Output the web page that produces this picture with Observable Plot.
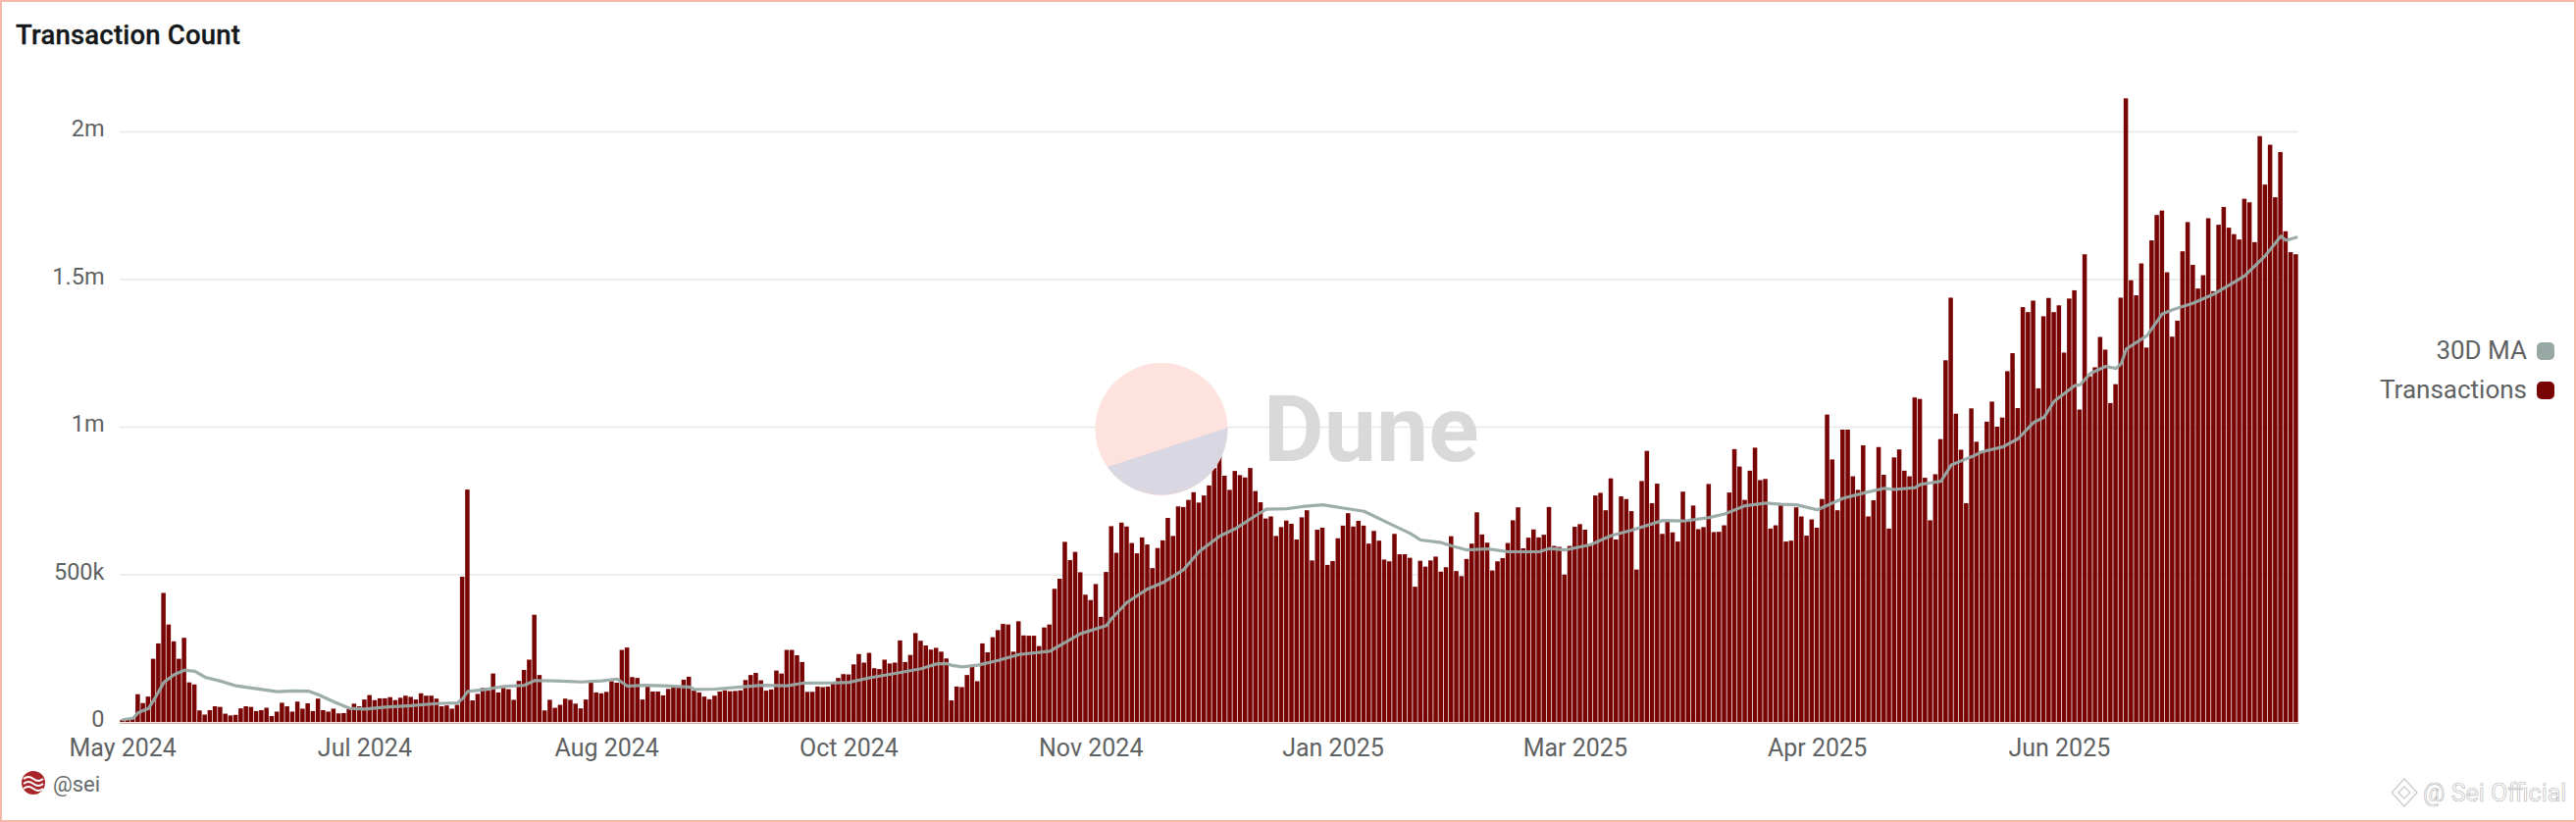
<!DOCTYPE html>
<html><head><meta charset="utf-8">
<script src="https://cdn.jsdelivr.net/npm/d3@7"></script>
<script src="https://cdn.jsdelivr.net/npm/@observablehq/plot@0.6"></script>
<style>
html,body{margin:0;padding:0;background:#fff;width:2626px;height:838px;overflow:hidden;font-family:Roboto,"Noto Sans",sans-serif;color:#5f6263}
#frame{position:absolute;left:0;top:0;width:2626px;height:838px;box-sizing:border-box;border:2px solid #f4b9a8;pointer-events:none;z-index:5}
#title{height:64px;box-sizing:border-box;padding:21px 0 0 16px;font-size:27.5px;line-height:30px;font-weight:500;color:#14181a;-webkit-text-stroke:.3px #14181a;letter-spacing:.2px}
#chart svg{display:block}
#foot{height:54px;position:relative}
#foot span{position:absolute;left:54px;top:3px;font-size:22px;line-height:26px;color:#666a6b}
#foot svg.logo{position:absolute;left:22px;top:2px}
#legend{position:absolute;right:22px;top:337px;font-size:26px;line-height:40px;text-align:right;color:#5f6263}
#legend i{display:inline-block;width:18px;height:18px;border-radius:5px;margin-left:10px;vertical-align:-1px}
#dune{position:absolute;left:1116px;top:370px;pointer-events:none;z-index:3}
#wm{position:absolute;left:2436px;top:790px;pointer-events:none;z-index:3}
</style></head><body>
<div id="title">Transaction Count</div>
<div id="chart"></div>
<div id="foot">
<svg class="logo" width="24" height="24" viewBox="0 0 24 24"><circle cx="12" cy="12" r="12" fill="#a8262a"/><path d="M2 8q5-4 10 0t10 0M2 13q5-4 10 0t10 0M2 18q5-4 10 0t10 0" fill="none" stroke="#fff" stroke-width="2"/></svg>
<span>@sei</span></div>
<div id="legend"><div>30D MA<i style="background:#98a9a5"></i></div><div>Transactions<i style="background:#790404"></i></div></div>
<svg id="dune" width="400" height="140" viewBox="0 0 400 140">
<circle cx="68" cy="67.5" r="67.5" fill="#fddfda" fill-opacity=".92"/>
<path d="M135.5 66 L13 106 A67.5 67.5 0 0 0 135.5 66Z" fill="#d5d6e2" fill-opacity=".92"/>
<text x="172" y="100" font-family="Roboto,sans-serif" font-weight="700" font-size="95" fill="#d7d7d7" fill-opacity=".95">Dune</text>
</svg>
<svg id="wm" width="188" height="40" viewBox="0 0 188 40">
<path d="M15 4 L28 18 L15 32 L2 18Z M15 12 L21 18 L15 24 L9 18Z" fill="#fff" stroke="#c9c9c9" stroke-width="1.2"/>
<text x="34" y="27" font-family="Roboto,sans-serif" font-size="25" fill="#fff" stroke="#bdbdbd" stroke-width=".7">@ Sei Official</text>
</svg>
<div id="frame"></div>
<script>
// Daily transactions, in thousands
const transactions1 = [7,7,11,94,64,86,214,266,437,330,273,214,285,134,127,39,25,40,53,51,28,22,24,46,53,51,37,40,48,20,35,65,53,35,69,45,63,37,79,40,35,45,29,30,44,62,53,76,91,74,80,80,84,74,82,89,85,76,97,89,89,79,53,56,45,58,492,787,73,95,115,106,164,100,115,111,75,139,176,211,363,159,39,75,48];
const transactions2 = [58,79,75,62,46,76,133,100,97,102,138,133,244,252,152,149,76,120,103,103,90,112,120,117,143,153,106,100,86,77,89,103,107,104,105,107,142,159,166,141,106,110,174,164,244,244,226,203,102,102,120,118,120,131,149,162,161,195,230,201,234,182,179,211,198,201,276,203,227,301,275,259,245,251,238,215,73,120,118,159,186,138,266,236,287,311];
const transactions3 = [332,330,238,341,293,292,292,257,320,330,451,485,610,548,576,507,431,413,467,356,508,663,573,675,662,606,571,625,601,521,589,615,691,630,730,728,752,778,743,767,801,860,928,834,786,850,836,828,860,782,744,689,696,630,660,682,671,618,693,717,547,651,658,532,545,622,665,707,662,681,665,604,647,614,550,544,637,568,568,556,458,546,526,547,560];
const transactions4 = [509,524,629,511,494,552,604,710,635,607,513,544,555,606,683,727,588,624,652,625,634,728,596,593,499,596,661,670,651,601,767,776,717,825,618,764,755,714,516,816,918,741,807,637,679,642,611,780,681,733,653,660,806,643,644,666,777,924,865,752,851,929,819,823,655,666,734,611,614,727,696,631,686,658,755,1041,889,717,990,990,832,786,937,696,751,931];
const transactions5 = [837,655,896,923,851,832,1099,1094,827,683,839,958,1225,1437,1044,922,741,1062,949,917,1017,1085,1000,1031,1188,1249,1063,1405,1388,1427,1130,1374,1436,1388,1411,1251,1434,1462,1058,1584,1171,1201,1304,1261,1080,1144,1437,2112,1496,1445,1553,1268,1631,1717,1732,1523,1305,1359,1594,1693,1548,1468,1513,1706,1459,1684,1744,1674,1652,1634,1772,1760,1625,1984,1820,1955,1777,1930,1662,1591,1584];
// 30-day moving average (thousands) read at the bars numbered in maBar
const maBar = [0,2,3,5,6,8,10,12,14,16,19,22,26,30,33,36,38,41,44,47,51,56,61,65,66,67,70,74,78,80,84,89,93,96,98,101,105,110,111,115,120,124,129,132,138,141,145,150,155,158,160,161,163,166,170,174,180,182,186,191,192,195,199,202,206,209,213,216,220,222,226,229,233,237,241,246,250,252,256,258,261,265,269,275,277,280,285,289,293,299,303,308,311,315,319,322,325,329,334,338,341,342,344,348,349,353,355,359,361,365,368,371,373,375,379,380,382,385,387,388,389,393,396,398,402,406,409,412,416,419,420,422];
const maValue = [9,14,33,47,75,136,162,177,173,153,140,124,114,104,107,106,94,70,48,45,52,57,64,66,81,105,111,122,126,142,141,137,141,147,123,126,124,120,112,113,120,126,124,133,134,136,151,166,182,198,200,193,188,194,210,230,241,261,301,328,352,407,452,474,518,579,631,656,701,722,724,731,737,726,715,673,640,618,609,598,584,588,578,578,589,584,602,633,651,684,682,694,706,734,743,739,737,720,759,777,789,793,789,795,806,817,872,900,917,933,961,1016,1033,1088,1141,1143,1182,1206,1199,1215,1265,1310,1384,1398,1420,1451,1481,1513,1581,1647,1633,1643];
const yTicks = [0,500,1000,1500,2000];
const yTickLabels = ["0","500k","1m","1.5m","2m"];
const tickBars = [0,47,94,141,188,235,282,329,376];
const xTickLabels = ["May 2024","Jul 2024","Aug 2024","Oct 2024","Nov 2024","Jan 2025","Mar 2025","Apr 2025","Jun 2025"];

const values = [...transactions1,...transactions2,...transactions3,...transactions4,...transactions5];
const bars = d3.range(values.length);
const rows = bars.map(i => ({bar:i, tx:values[i]}));
const maRows = maBar.filter(i => i < values.length).map((b,i) => ({bar:b, ma:maValue[i]}));

const chart = Plot.plot({
  width:2626, height:720,
  marginLeft:122, marginRight:283, marginTop:10, marginBottom:48,
  style:{background:"transparent",fontFamily:"Roboto,'Noto Sans',sans-serif"},
  x:{type:"band",domain:bars,padding:0.14,paddingOuter:0.07,round:false,axis:null},
  y:{domain:[0,2199.3],axis:null},
  marks:[
    Plot.ruleY(yTicks,{stroke:"#e8e8e8",strokeWidth:1.6}),
    Plot.barY(rows,{x:"bar",y:"tx",fill:"#790404"}),
    Plot.ruleY([0],{stroke:"#d9a79c",strokeWidth:1.2,dy:1}),
    Plot.line(maRows,{x:"bar",y:"ma",stroke:"#98a9a5",strokeWidth:3.2,strokeOpacity:.95}),
    Plot.axisY({ticks:yTicks,tickSize:0,tickPadding:16,fontSize:23.5,dy:-3,color:"#5f6263",tickFormat:d=>yTickLabels[yTicks.indexOf(d)],label:null}),
    Plot.axisX({ticks:tickBars,tickSize:0,tickPadding:17,fontSize:25,color:"#5f6263",tickFormat:d=>xTickLabels[tickBars.indexOf(d)],label:null})
  ]
});
document.getElementById("chart").appendChild(chart);
</script>
</body></html>
